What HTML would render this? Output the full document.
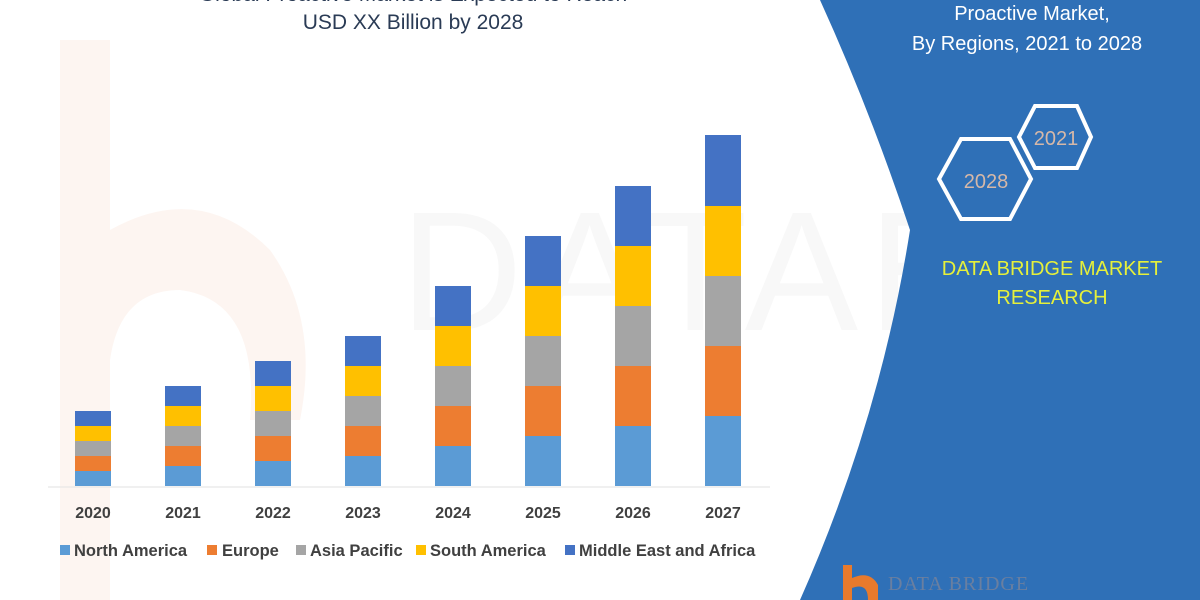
<!DOCTYPE html>
<html><head><meta charset="utf-8"><style>
html,body{margin:0;padding:0;width:1200px;height:600px;overflow:hidden;background:#fff;font-family:"Liberation Sans",sans-serif}
</style></head><body>
<svg width="1200" height="600" viewBox="0 0 1200 600" xmlns="http://www.w3.org/2000/svg">
<rect width="1200" height="600" fill="#fff"/>
<path d="M60 40 L110 40 L110 230 Q200 180 270 250 Q320 320 300 420 L250 420 Q260 300 180 290 Q120 290 110 360 L110 600 L60 600 Z" fill="#fdf5f1"/>
<text x="400" y="330" font-size="170" fill="#f8f8f8" font-family="Liberation Sans,sans-serif" letter-spacing="10">DATABRIDGE</text>
<text x="413" y="29" text-anchor="middle" font-size="21" fill="#2a3b55">USD XX Billion by 2028</text>
<text x="413" y="1" text-anchor="middle" font-size="21" fill="#2a3b55">Global Proactive Market is Expected to Reach</text>
<path d="M820 0 L1200 0 L1200 600 L800 600 Q880 420 910 230 Q870 110 820 0 Z" fill="#2f70b7"/>
<text x="1032" y="20" text-anchor="middle" font-size="20" fill="#fff">Proactive Market,</text>
<text x="1027" y="50" text-anchor="middle" font-size="20" fill="#fff">By Regions, 2021 to 2028</text>
<polygon points="1035,106 1077,106 1091,137 1077,168 1035,168 1019,137" fill="none" stroke="#fff" stroke-width="4"/>
<text x="1056" y="145" text-anchor="middle" font-size="20" fill="#d6b8a8">2021</text>
<polygon points="961,139 1010,139 1031,179 1010,219 961,219 939,179" fill="none" stroke="#fff" stroke-width="4"/>
<text x="986" y="188" text-anchor="middle" font-size="20" fill="#d6b8a8">2028</text>
<text x="1052" y="275" text-anchor="middle" font-size="20" fill="#e6f03a">DATA BRIDGE MARKET</text>
<text x="1052" y="304" text-anchor="middle" font-size="20" fill="#e6f03a">RESEARCH</text>
<path d="M843 565 L852 565 L852 578 Q870 570 878 585 L878 600 L868 600 Q868 582 852 588 L852 600 L843 600 Z" fill="#e87a2c"/>
<text x="888" y="590" font-size="20" fill="#6a7fa0" font-family="Liberation Serif,serif" letter-spacing="1">DATA BRIDGE</text>
<line x1="48" y1="487" x2="770" y2="487" stroke="#e2e2e2" stroke-width="1"/>
<g>
<rect x="75" y="471" width="36" height="15" fill="#5b9bd5"/><rect x="75" y="456" width="36" height="15" fill="#ed7d31"/><rect x="75" y="441" width="36" height="15" fill="#a5a5a5"/><rect x="75" y="426" width="36" height="15" fill="#ffc000"/><rect x="75" y="411" width="36" height="15" fill="#4472c4"/>
<rect x="165" y="466" width="36" height="20" fill="#5b9bd5"/><rect x="165" y="446" width="36" height="20" fill="#ed7d31"/><rect x="165" y="426" width="36" height="20" fill="#a5a5a5"/><rect x="165" y="406" width="36" height="20" fill="#ffc000"/><rect x="165" y="386" width="36" height="20" fill="#4472c4"/>
<rect x="255" y="461" width="36" height="25" fill="#5b9bd5"/><rect x="255" y="436" width="36" height="25" fill="#ed7d31"/><rect x="255" y="411" width="36" height="25" fill="#a5a5a5"/><rect x="255" y="386" width="36" height="25" fill="#ffc000"/><rect x="255" y="361" width="36" height="25" fill="#4472c4"/>
<rect x="345" y="456" width="36" height="30" fill="#5b9bd5"/><rect x="345" y="426" width="36" height="30" fill="#ed7d31"/><rect x="345" y="396" width="36" height="30" fill="#a5a5a5"/><rect x="345" y="366" width="36" height="30" fill="#ffc000"/><rect x="345" y="336" width="36" height="30" fill="#4472c4"/>
<rect x="435" y="446" width="36" height="40" fill="#5b9bd5"/><rect x="435" y="406" width="36" height="40" fill="#ed7d31"/><rect x="435" y="366" width="36" height="40" fill="#a5a5a5"/><rect x="435" y="326" width="36" height="40" fill="#ffc000"/><rect x="435" y="286" width="36" height="40" fill="#4472c4"/>
<rect x="525" y="436" width="36" height="50" fill="#5b9bd5"/><rect x="525" y="386" width="36" height="50" fill="#ed7d31"/><rect x="525" y="336" width="36" height="50" fill="#a5a5a5"/><rect x="525" y="286" width="36" height="50" fill="#ffc000"/><rect x="525" y="236" width="36" height="50" fill="#4472c4"/>
<rect x="615" y="426" width="36" height="60" fill="#5b9bd5"/><rect x="615" y="366" width="36" height="60" fill="#ed7d31"/><rect x="615" y="306" width="36" height="60" fill="#a5a5a5"/><rect x="615" y="246" width="36" height="60" fill="#ffc000"/><rect x="615" y="186" width="36" height="60" fill="#4472c4"/>
<rect x="705" y="416" width="36" height="70" fill="#5b9bd5"/><rect x="705" y="346" width="36" height="70" fill="#ed7d31"/><rect x="705" y="276" width="36" height="70" fill="#a5a5a5"/><rect x="705" y="206" width="36" height="70" fill="#ffc000"/><rect x="705" y="135" width="36" height="71" fill="#4472c4"/>
</g>
<g font-size="16" font-weight="bold" fill="#404040" text-anchor="middle">
<text x="93" y="518">2020</text><text x="183" y="518">2021</text><text x="273" y="518">2022</text><text x="363" y="518">2023</text><text x="453" y="518">2024</text><text x="543" y="518">2025</text><text x="633" y="518">2026</text><text x="723" y="518">2027</text>
</g>
<g font-size="16.5" font-weight="bold" fill="#404040">
<rect x="60" y="545" width="10" height="10" fill="#5b9bd5"/><text x="74" y="556">North America</text>
<rect x="207" y="545" width="10" height="10" fill="#ed7d31"/><text x="222" y="556">Europe</text>
<rect x="296" y="545" width="10" height="10" fill="#a5a5a5"/><text x="310" y="556">Asia Pacific</text>
<rect x="416" y="545" width="10" height="10" fill="#ffc000"/><text x="430" y="556">South America</text>
<rect x="565" y="545" width="10" height="10" fill="#4472c4"/><text x="579" y="556">Middle East and Africa</text>
</g>
</svg>
</body></html>
